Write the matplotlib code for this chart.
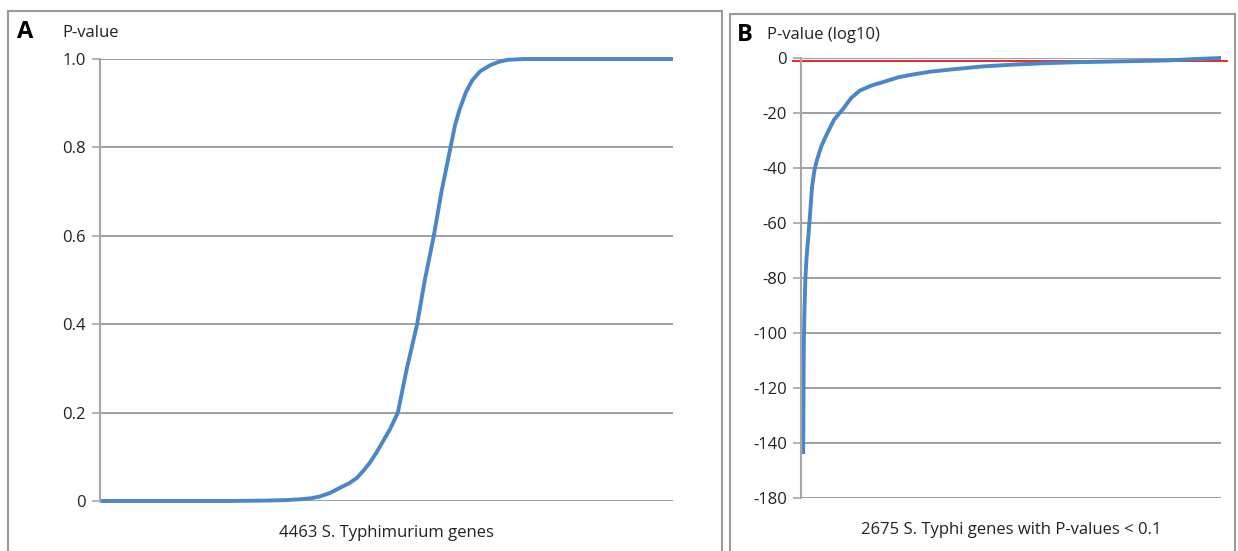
import numpy as np
import matplotlib
matplotlib.use('Agg')
from matplotlib import pyplot as plt
from matplotlib.patches import Rectangle

plt.rcParams['font.family'] = ['Open Sans', 'DejaVu Sans']

# panel A: sorted P-values of 4463 S. Typhimurium genes
a_rank = [1, 1000, 1300, 1450, 1560, 1640, 1710, 1790, 1870, 1940, 2000, 2050,
          2100, 2150, 2200, 2260, 2320, 2390, 2470, 2530, 2600, 2660, 2730,
          2765, 2800, 2850, 2900, 2960, 3040, 3100, 3170, 3300, 4463]
a_pval = [0, 0, 0.001, 0.002, 0.004, 0.006, 0.01, 0.018, 0.03, 0.04, 0.052, 0.068,
          0.086, 0.108, 0.133, 0.163, 0.2, 0.3, 0.4, 0.5, 0.6, 0.7, 0.8,
          0.85, 0.885, 0.925, 0.952, 0.972, 0.986, 0.993, 0.998, 1.0, 1.0]
a_n = 4463
a_ticks = [0, 0.2, 0.4, 0.6, 0.8, 1.0]
a_ticklabels = ['0', '0.2', '0.4', '0.6', '0.8', '1.0']

# panel B: log10 P-values of 2675 S. Typhi genes
b_rank = [14, 16, 18, 22, 28, 36, 45, 55, 70, 85, 102, 130, 166, 210, 268, 320,
          376, 450, 548, 620, 713, 820, 968, 1150, 1350, 1550, 1777, 2050, 2330,
          2500, 2675]
b_logp = [-144, -120, -104, -92, -80, -72, -66, -59, -47, -41, -37, -32, -27.5,
          -22.5, -18.5, -14.5, -11.8, -10, -8.3, -7, -6.0, -5, -4.1, -3.1, -2.4,
          -1.9, -1.5, -1.2, -0.9, -0.4, 0]
b_n = 2675
b_ticks = [0, -20, -40, -60, -80, -100, -120, -140, -160]
b_ticklabels = ['0', '-20', '-40', '-60', '-80', '-100', '-120', '-140', '-180']
cutoff = -1  # log10(0.1)

W, H = 1238, 551
fig = plt.figure(figsize=(W / 100, H / 100), dpi=100)

blue = '#4a87c9'
gray = '#8f8f8f'
spine_gray = '#a6a6a6'

def px(x0, y0, x1, y1):
    # pixel box -> figure fraction [left, bottom, width, height]
    return [x0 / W, 1 - y1 / H, (x1 - x0) / W, (y1 - y0) / H]

# outer frames
for x0, y0, x1 in [(8, 11, 722), (730, 14, 1235)]:
    fig.patches.append(Rectangle((x0 / W, -0.05), (x1 - x0) / W, 1 - y0 / H + 0.05,
                                 transform=fig.transFigure, fill=False,
                                 edgecolor='#9a9a9a', lw=1.5))

def style(ax):
    for s in ['top', 'right', 'bottom']:
        ax.spines[s].set_visible(False)
    ax.spines['left'].set_color(spine_gray)
    ax.spines['left'].set_linewidth(1.5)
    ax.tick_params(axis='y', length=6, width=1.2, color=spine_gray, pad=4,
                   labelsize=12, labelcolor='#222222')
    ax.tick_params(axis='x', length=0, labelbottom=False)
    ax.grid(axis='y', color=gray, lw=1.2)
    ax.set_axisbelow(True)

# ---- A
axA = fig.add_axes(px(100, 59, 673, 501))
style(axA)
axA.plot(a_rank, a_pval, color=blue, lw=2.8, solid_capstyle='butt',
         solid_joinstyle='round', clip_on=False)
axA.set_xlim(0, a_n)
axA.set_ylim(0, 1.0)
axA.set_yticks(a_ticks)
axA.set_yticklabels(a_ticklabels)
axA.text(0.5, -0.055, '4463 S. Typhimurium genes', transform=axA.transAxes,
         ha='center', va='top', fontsize=12, color='#222222')
fig.text(17 / W, 1 - 32 / H, 'A', fontsize=17, fontweight='bold', va='center')
fig.text(62 / W, 1 - 33 / H, 'P-value', fontsize=12, va='center', color='#222222')

# ---- B
axB = fig.add_axes(px(801, 58, 1221, 498))
style(axB)
axB.plot(b_rank, b_logp, color=blue, lw=2.8, solid_capstyle='butt',
         solid_joinstyle='round', clip_on=False)
axB.plot([-0.02, 1.015], [cutoff, cutoff], color='#e8161b', lw=1.3,
         transform=axB.get_yaxis_transform(), clip_on=False, zorder=1.5)
axB.set_xlim(0, b_n)
axB.set_ylim(-160, 0)
axB.set_yticks(b_ticks)
axB.set_yticklabels(b_ticklabels)
axB.text(0.5, -0.055, '2675 S. Typhi genes with P-values < 0.1', transform=axB.transAxes,
         ha='center', va='top', fontsize=12, color='#222222')
fig.text(737 / W, 1 - 35 / H, 'B', fontsize=17, fontweight='bold', va='center')
fig.text(767 / W, 1 - 35 / H, 'P-value (log10)', fontsize=12, va='center', color='#222222')

fig.savefig('out.png', dpi=100)
